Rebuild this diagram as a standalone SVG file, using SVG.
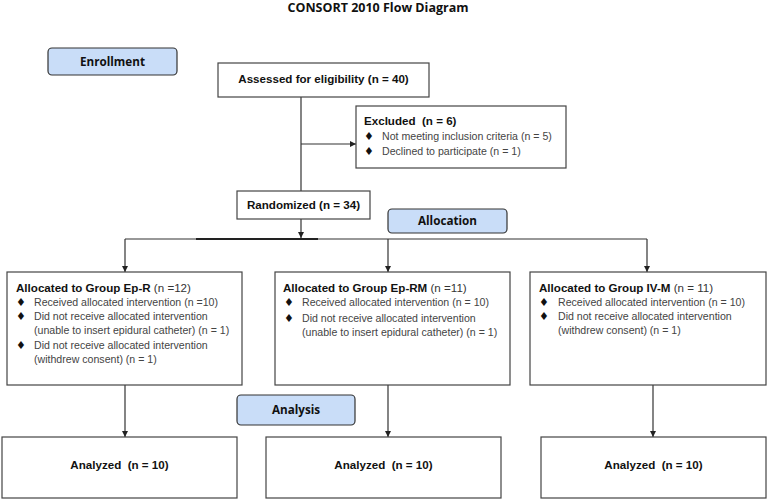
<svg xmlns="http://www.w3.org/2000/svg" width="778" height="501" viewBox="0 0 778 501">
<defs>
<marker id="ah" viewBox="0 0 10 10" refX="10" refY="5" markerWidth="6" markerHeight="6" orient="auto" markerUnits="userSpaceOnUse">
<path d="M0,0 L10,5 L0,10 z" fill="#222"/>
</marker>
<style>
text{white-space:pre}
.box{fill:#fff;stroke:#444;stroke-width:1.2}
.lab{fill:#c9ddf8;stroke:#333;stroke-width:1.2}
.ln{fill:none;stroke:#333;stroke-width:1.2}
.b{font-family:"Liberation Sans",Arial,sans-serif;font-weight:bold;font-size:11.6px;fill:#111}
.r{font-family:"Liberation Sans",Arial,sans-serif;font-size:10.6px;fill:#444}
.d{font-family:"DejaVu Sans",sans-serif;font-size:11px;fill:#111}
.rl{font-family:"Liberation Sans",Arial,sans-serif;font-size:11.6px;fill:#333;font-weight:normal}
.h{font-family:"Open Sans","Liberation Sans",sans-serif;font-weight:bold;font-size:11.7px;fill:#111}
.t{font-family:"Open Sans","Liberation Sans",sans-serif;font-weight:bold;font-size:12.5px;fill:#111}
</style>
</defs>
<rect width="778" height="501" fill="#fff"/>
<text class="t" x="378" y="12" text-anchor="middle">CONSORT 2010 Flow Diagram</text>

<g id="connectors">
<line class="ln" x1="301" y1="97" x2="301" y2="191"/>
<line class="ln" x1="301" y1="144" x2="356" y2="144" marker-end="url(#ah)"/>
<line class="ln" x1="301" y1="219" x2="301" y2="238" marker-end="url(#ah)"/>
<line class="ln" x1="125" y1="239" x2="647" y2="239"/>
<line x1="196" y1="239" x2="318" y2="239" stroke="#222" stroke-width="2"/>
<line class="ln" x1="125" y1="239" x2="125" y2="272" marker-end="url(#ah)"/>
<line class="ln" x1="388" y1="239" x2="388" y2="272" marker-end="url(#ah)"/>
<line class="ln" x1="647" y1="239" x2="647" y2="272" marker-end="url(#ah)"/>
<line class="ln" x1="125" y1="385" x2="125" y2="437" marker-end="url(#ah)"/>
<line class="ln" x1="388" y1="385" x2="388" y2="437" marker-end="url(#ah)"/>
<line class="ln" x1="653" y1="385" x2="653" y2="437" marker-end="url(#ah)"/>
</g>

<g id="enrollment">
<rect class="lab" x="48" y="48" width="129" height="27" rx="4"/>
<text class="h" x="112.5" y="66" text-anchor="middle">Enrollment</text>
</g>

<g id="assessed">
<rect class="box" x="218" y="63" width="211" height="34"/>
<text class="b" x="323.5" y="83" text-anchor="middle">Assessed for eligibility (n = 40)</text>
</g>

<g id="excluded">
<rect class="box" x="356" y="106" width="210" height="62"/>
<text class="b" x="364" y="125">Excluded  (n = 6)</text>
<text class="d" x="364" y="140">♦</text>
<text class="r" x="382" y="140">Not meeting inclusion criteria (n = 5)</text>
<text class="d" x="364" y="155">♦</text>
<text class="r" x="382" y="155">Declined to participate (n = 1)</text>
</g>

<g id="randomized">
<rect class="box" x="237" y="191" width="133" height="28"/>
<text class="b" x="303.5" y="209" text-anchor="middle">Randomized (n = 34)</text>
</g>

<g id="allocation">
<rect class="lab" x="388" y="209" width="119" height="24" rx="4"/>
<text class="h" x="447.5" y="225" text-anchor="middle">Allocation</text>
</g>

<g id="group-epr">
<rect class="box" x="7" y="272" width="235" height="113"/>
<text class="b" x="16" y="292">Allocated to Group Ep-R<tspan class="rl"> (n =12)</tspan></text>
<text class="d" x="16" y="306">♦</text>
<text class="r" x="34" y="306">Received allocated intervention (n =10)</text>
<text class="d" x="16" y="320">♦</text>
<text class="r" x="34" y="320">Did not receive allocated intervention</text>
<text class="r" x="34" y="334">(unable to insert epidural catheter) (n = 1)</text>
<text class="d" x="16" y="349">♦</text>
<text class="r" x="34" y="349">Did not receive allocated intervention</text>
<text class="r" x="34" y="363">(withdrew consent) (n = 1)</text>
</g>

<g id="group-eprm">
<rect class="box" x="275" y="272" width="235" height="113"/>
<text class="b" x="283" y="292">Allocated to Group Ep-RM<tspan class="rl"> (n =11)</tspan></text>
<text class="d" x="284" y="306">♦</text>
<text class="r" x="302" y="306">Received allocated intervention (n = 10)</text>
<text class="d" x="284" y="322">♦</text>
<text class="r" x="302" y="322">Did not receive allocated intervention</text>
<text class="r" x="302" y="336">(unable to insert epidural catheter) (n = 1)</text>
</g>

<g id="group-ivm">
<rect class="box" x="530" y="272" width="236" height="113"/>
<text class="b" x="539" y="292">Allocated to Group IV-M<tspan class="rl"> (n = 11)</tspan></text>
<text class="d" x="539" y="306">♦</text>
<text class="r" x="558" y="306">Received allocated intervention (n = 10)</text>
<text class="d" x="539" y="320">♦</text>
<text class="r" x="558" y="320">Did not receive allocated intervention</text>
<text class="r" x="558" y="334">(withdrew consent) (n = 1)</text>
</g>

<g id="analysis">
<rect class="lab" x="237" y="395" width="118" height="30" rx="4"/>
<text class="h" x="296" y="414" text-anchor="middle">Analysis</text>
</g>

<g id="analyzed-epr">
<rect class="box" x="2" y="437" width="235" height="61"/>
<text class="b" x="119.5" y="469" text-anchor="middle">Analyzed  (n = 10)</text>
</g>
<g id="analyzed-eprm">
<rect class="box" x="266" y="437" width="235" height="61"/>
<text class="b" x="383.5" y="469" text-anchor="middle">Analyzed  (n = 10)</text>
</g>
<g id="analyzed-ivm">
<rect class="box" x="541" y="437" width="225" height="61"/>
<text class="b" x="653.5" y="469" text-anchor="middle">Analyzed  (n = 10)</text>
</g>
</svg>
